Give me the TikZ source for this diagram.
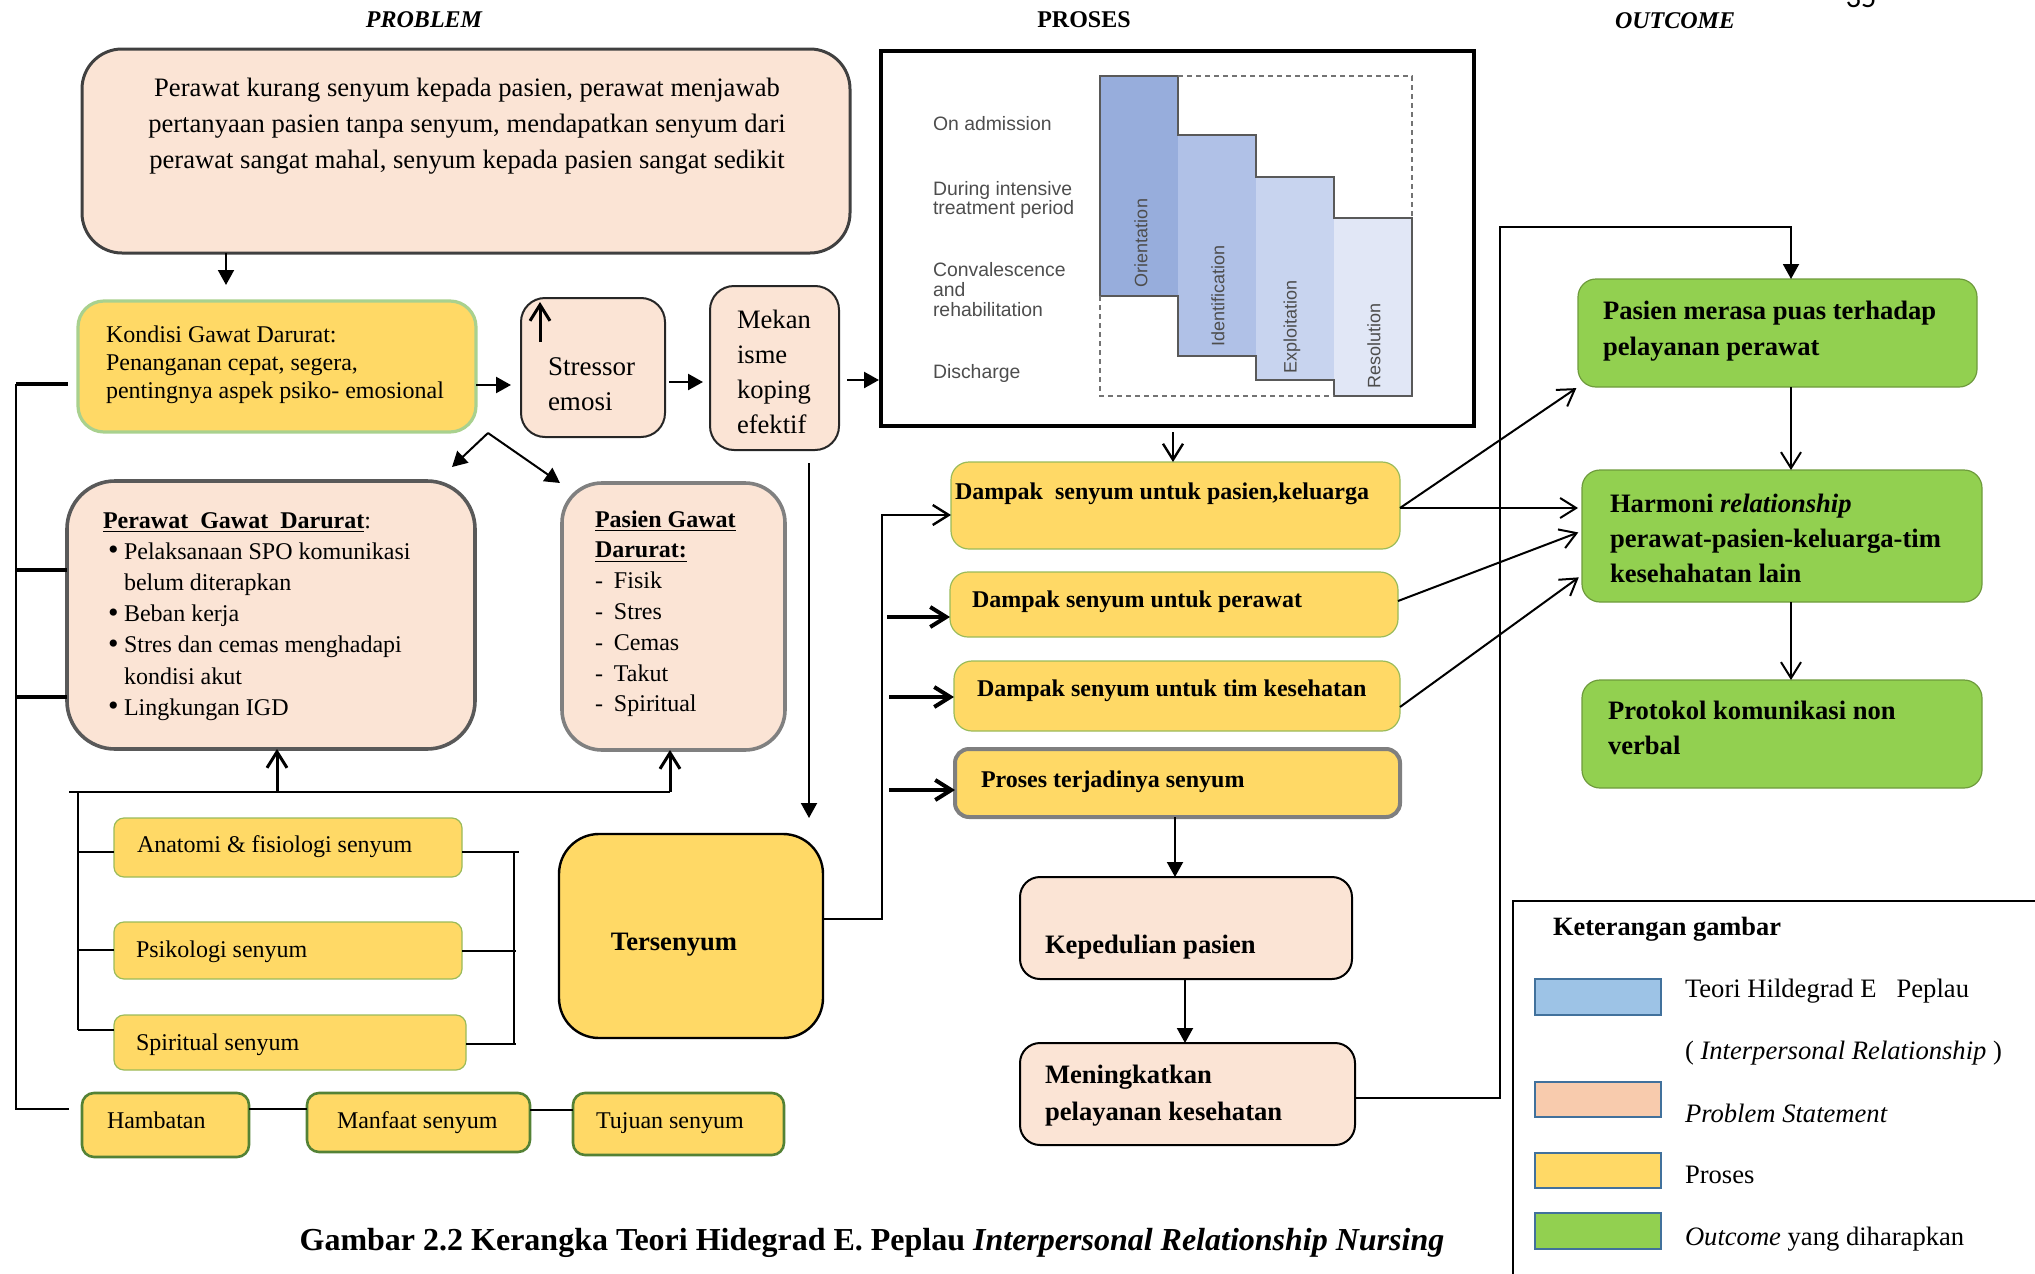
\documentclass[tikz,border=0pt]{standalone}
\usepackage{fontspec}
\setmainfont{Liberation Serif}
\newfontfamily\sansf{Liberation Sans}
\newfontfamily\calib{Carlito}
\usetikzlibrary{arrows.meta,fit}
\definecolor{peach}{HTML}{FBE4D5}
\definecolor{gold}{HTML}{FFD966}
\definecolor{lgreen}{HTML}{92D050}
\definecolor{ogreen}{HTML}{6E9B3C}
\definecolor{kondbd}{HTML}{A9D18E}
\definecolor{subbd}{HTML}{9BBB59}
\definecolor{botbd}{HTML}{548235}
\definecolor{probbd}{HTML}{404040}
\definecolor{perbd}{HTML}{595959}
\definecolor{pasbd}{HTML}{808080}
\definecolor{prosbd}{HTML}{7F7F7F}
\definecolor{cOri}{HTML}{97ADDC}
\definecolor{cIde}{HTML}{B0C1E7}
\definecolor{cExp}{HTML}{C8D4EF}
\definecolor{cRes}{HTML}{E1E7F6}
\definecolor{lgBlue}{HTML}{9DC3E6}
\definecolor{lgPeach}{HTML}{F8CBAD}
\definecolor{lgBd}{HTML}{41719C}
\definecolor{chartTxt}{HTML}{4D4D4D}
\newcommand{\myfs}[2]{\fontsize{#1}{#2}\selectfont}
\newcommand{\bigbul}{\makebox[8pt][l]{\raisebox{-0.3pt}{\myfs{15}{15}\textbullet}}}
\tikzset{
  bx/.style={inner sep=0pt, outer sep=0pt, draw},
  pch/.style={bx, fill=peach},
  yel/.style={bx, fill=gold},
  grn/.style={bx, fill=lgreen, draw=ogreen, line width=0.6pt, rounded corners=9pt},
  subbox/.style={yel, draw=subbd, line width=0.6pt, rounded corners=5pt},
  botbox/.style={yel, draw=botbd, line width=1.3pt, rounded corners=6pt},
  dbox/.style={yel, draw=subbd, line width=0.6pt, rounded corners=9pt},
  tx/.style={inner sep=0pt, outer sep=0pt},
  ln/.style={line width=1pt},
  fa/.style={-{Triangle[length=7.5pt,width=8pt]}},
  oa/.style={-{Straight Barb[length=8pt,width=10pt]}},
  lgsw/.style={draw=lgBd, line width=1.2pt},
}
\begin{document}
\begin{tikzpicture}[x=0.5pt,y=-0.5pt]
\useasboundingbox (0,0) rectangle (2035,1274);

% ---- titles
\node[tx,anchor=base,font=\bfseries\itshape\myfs{12}{14}] (hP) at (424,27) {PROBLEM};
\node[tx,anchor=base,font=\bfseries\myfs{12}{14}] (hPr) at (1084,27) {PROSES};
\node[tx,anchor=base,font=\bfseries\itshape\myfs{12}{14}] (hO) at (1675,28) {OUTCOME};
\node[tx,anchor=base,font=\calib\myfs{15}{17}] (pg) at (1861,7) {35};

% ---- boxes
\node[pch,draw=probbd,line width=1.5pt,rounded corners=20pt,fit={(82,49) (850,253)}] (prob) {};
\node[yel,draw=kondbd,line width=1.6pt,rounded corners=13pt,fit={(78,301) (476,432)}] (kond) {};
\node[pch,draw=black!85,line width=1pt,rounded corners=12pt,fit={(521,298) (665,437)}] (stress) {};
\node[pch,draw=black!85,line width=1pt,rounded corners=12pt,fit={(710,286) (839,450)}] (mek) {};
\node[bx,draw=black,line width=2pt,fit={(881,51) (1474,426)}] (pic) {};
\node[pch,draw=perbd,line width=1.8pt,rounded corners=24pt,fit={(67,481) (475,749)}] (perawat) {};
\node[pch,draw=pasbd,line width=1.8pt,rounded corners=20pt,fit={(562,483) (785,750)}] (pasien) {};
\node[subbox,fit={(114,818) (462,877)}] (anat) {};
\node[subbox,fit={(114,922) (462,979)}] (psik) {};
\node[subbox,fit={(114,1015) (466,1070)}] (spir) {};
\node[botbox,fit={(82,1093) (249,1157)}] (hamb) {};
\node[botbox,fit={(307,1093) (530,1152)}] (manf) {};
\node[botbox,fit={(573,1093) (784,1155)}] (tuju) {};
\node[yel,draw=black,line width=1.2pt,rounded corners=20pt,fit={(559,834) (823,1038)}] (ters) {};
\node[dbox,fit={(951,462) (1400,549)}] (d1) {};
\node[dbox,fit={(950,572) (1398,637)}] (d2) {};
\node[dbox,fit={(954,661) (1400,731)}] (d3) {};
\node[yel,draw=prosbd,line width=2pt,rounded corners=7pt,fit={(955,749) (1400,817)}] (d4) {};
\node[pch,draw=black,line width=1pt,rounded corners=10pt,fit={(1020,877) (1352,979)}] (kep) {};
\node[pch,draw=black,line width=1pt,rounded corners=10pt,fit={(1020,1043) (1355,1145)}] (men) {};
\node[grn,fit={(1578,279) (1977,387)}] (o1) {};
\node[grn,fit={(1582,470) (1982,602)}] (o2) {};
\node[grn,fit={(1582,680) (1982,788)}] (o3) {};
\node[bx,draw=black,line width=1.2pt,fit={(1513,901) (2070,1310)}] (leg) {};

% ---- Peplau chart
\fill[cOri] (1100,76) rectangle (1178,296);
\fill[cIde] (1178,135) rectangle (1256,356);
\fill[cExp] (1256,177) rectangle (1334,380);
\fill[cRes] (1334,218) rectangle (1412,396);
\draw[line width=0.6pt,draw=black!65] (1100,76) -- (1178,76) -- (1178,135) -- (1256,135) -- (1256,177) -- (1334,177) -- (1334,218) -- (1412,218) -- (1412,396) -- (1334,396) -- (1334,380) -- (1256,380) -- (1256,356) -- (1178,356) -- (1178,296) -- (1100,296) -- cycle;
\draw[line width=0.8pt,draw=black!55,dash pattern=on 2.5pt off 2pt] (1178,76) -- (1412,76) -- (1412,218) (1100,296) -- (1100,396) -- (1334,396);
\node[tx,rotate=90,font=\sansf\myfs{9}{10},text=chartTxt] (lOri) at (1141,243) {Orientation};
\node[tx,rotate=90,font=\sansf\myfs{9}{10},text=chartTxt] (lIde) at (1218,296) {Identification};
\node[tx,rotate=90,font=\sansf\myfs{9}{10},text=chartTxt] (lExp) at (1292,327) {Exploitation};
\node[tx,rotate=90,font=\sansf\myfs{9}{10},text=chartTxt] (lRes) at (1374,346) {Resolution};
\node[tx,anchor=base west,font=\sansf\myfs{9.7}{10},text=chartTxt] (lA) at (933,130) {On admission};
\node[tx,anchor=base west] (lB) at (933,181) {\parbox[t]{130pt}{\raggedright\sansf\myfs{9.7}{9.7}\color{chartTxt}During intensive\\treatment period}};
\node[tx,anchor=base west] (lC) at (933,262) {\parbox[t]{130pt}{\raggedright\sansf\myfs{9.7}{10}\color{chartTxt}Convalescence\\and\\rehabilitation}};
\node[tx,anchor=base west,font=\sansf\myfs{9.7}{10},text=chartTxt] (lD) at (933,378) {Discharge};

% ---- texts
\node[tx,anchor=base] (tprob) at (467,96) {\parbox[t]{380pt}{\centering\myfs{13.3}{18}Perawat kurang senyum kepada pasien, perawat menjawab\\ pertanyaan pasien tanpa senyum, mendapatkan senyum dari\\ perawat sangat mahal, senyum kepada pasien sangat sedikit}};
\node[tx,anchor=base west] (tkond) at (106,342) {\parbox[t]{260pt}{\raggedright\myfs{12}{14}Kondisi Gawat Darurat:\\ Penanganan cepat, segera,\\ pentingnya aspek psiko- emosional}};
\node[tx,anchor=base west] (tstress) at (548,375) {\parbox[t]{80pt}{\raggedright\myfs{13.5}{17.5}Stressor\\ emosi}};
\node[tx,anchor=base west] (tmek) at (737,328) {\parbox[t]{80pt}{\raggedright\myfs{13.3}{17.5}Mekan\\ isme\\ koping\\ efektif}};
\node[tx,anchor=base west] (tper) at (103,528) {\parbox[t]{260pt}{\raggedright\myfs{12}{15.6}\textbf{\underline{Perawat\ \ Gawat\ \ Darurat}}:\\
\hspace*{2.5pt}\bigbul Pelaksanaan SPO komunikasi\\
\hspace*{10.5pt}belum diterapkan\\
\hspace*{2.5pt}\bigbul Beban kerja\\
\hspace*{2.5pt}\bigbul Stres dan cemas menghadapi\\
\hspace*{10.5pt}kondisi akut\\
\hspace*{2.5pt}\bigbul Lingkungan IGD}};
\node[tx,anchor=base west] (tpas) at (595,527) {\parbox[t]{150pt}{\raggedright\myfs{12}{15.4}\textbf{\underline{Pasien Gawat}}\\
\textbf{\underline{Darurat:}}\\
\makebox[9.5pt][l]{-}Fisik\\
\makebox[9.5pt][l]{-}Stres\\
\makebox[9.5pt][l]{-}Cemas\\
\makebox[9.5pt][l]{-}Takut\\
\makebox[9.5pt][l]{-}Spiritual}};
\node[tx,anchor=base west,font=\myfs{12}{14}] (tanat) at (137,852) {Anatomi \& fisiologi senyum};
\node[tx,anchor=base west,font=\myfs{12}{14}] (tpsik) at (136,957) {Psikologi senyum};
\node[tx,anchor=base west,font=\myfs{12}{14}] (tspir) at (136,1050) {Spiritual senyum};
\node[tx,anchor=base west,font=\myfs{12}{14}] (thamb) at (107,1128) {Hambatan};
\node[tx,anchor=base west,font=\myfs{12}{14}] (tmanf) at (337,1128) {Manfaat senyum};
\node[tx,anchor=base west,font=\myfs{12}{14}] (ttuju) at (596,1128) {Tujuan senyum};
\node[tx,anchor=base,font=\bfseries\myfs{13.3}{16}] (tters) at (674,950) {Tersenyum};
\node[tx,anchor=base west,font=\bfseries\myfs{12}{14}] (td1) at (955,499) {Dampak\ \ senyum untuk pasien,keluarga};
\node[tx,anchor=base west,font=\bfseries\myfs{12}{14}] (td2) at (972,607) {Dampak senyum untuk perawat};
\node[tx,anchor=base west,font=\bfseries\myfs{12}{14}] (td3) at (977,696) {Dampak senyum untuk tim kesehatan};
\node[tx,anchor=base west,font=\bfseries\myfs{12}{14}] (td4) at (981,787) {Proses terjadinya senyum};
\node[tx,anchor=base west,font=\bfseries\myfs{13.3}{16}] (tkep) at (1045,953) {Kepedulian pasien};
\node[tx,anchor=base west] (tmen) at (1045,1083) {\parbox[t]{200pt}{\raggedright\bfseries\myfs{13.3}{18.5}Meningkatkan\\ pelayanan kesehatan}};
\node[tx,anchor=base west] (to1) at (1603,319) {\parbox[t]{220pt}{\raggedright\bfseries\myfs{13.3}{18}Pasien merasa puas terhadap\\ pelayanan perawat}};
\node[tx,anchor=base west] (to2) at (1610,512) {\parbox[t]{220pt}{\raggedright\bfseries\myfs{13.3}{17.5}Harmoni \textit{relationship}\\ perawat-pasien-keluarga-tim\\ kesehahatan lain}};
\node[tx,anchor=base west] (to3) at (1608,719) {\parbox[t]{220pt}{\raggedright\bfseries\myfs{13.3}{17.5}Protokol komunikasi non\\ verbal}};
\node[tx,anchor=base,font=\bfseries\myfs{16}{18}] (cap) at (872,1250) {Gambar 2.2 Kerangka Teori Hidegrad E. Peplau \textit{Interpersonal Relationship Nursing}};

% ---- legend
\node[tx,anchor=base west,font=\bfseries\myfs{13.2}{15}] (lgT) at (1553,935) {Keterangan gambar};
\node[lgsw,fill=lgBlue,fit={(1535,979) (1661,1015)},inner sep=0pt] (sw1) {};
\node[lgsw,fill=lgPeach,fit={(1535,1082) (1661,1117)},inner sep=0pt] (sw2) {};
\node[lgsw,fill=gold,fit={(1535,1153) (1661,1188)},inner sep=0pt] (sw3) {};
\node[lgsw,fill=lgreen,fit={(1535,1213) (1661,1249)},inner sep=0pt] (sw4) {};
\node[tx,anchor=base west,font=\myfs{13.3}{15}] (lg1) at (1685,997) {Teori Hildegrad E\ \ \ Peplau};
\node[tx,anchor=base west,font=\myfs{13.3}{15}] (lg1b) at (1685,1059) {( \textit{Interpersonal Relationship} )};
\node[tx,anchor=base west,font=\myfs{13.3}{15}] (lg2) at (1685,1122) {\textit{Problem Statement}};
\node[tx,anchor=base west,font=\myfs{13.3}{15}] (lg3) at (1685,1183) {Proses};
\node[tx,anchor=base west,font=\myfs{13.3}{15}] (lg4) at (1685,1245) {\textit{Outcome} yang diharapkan};

% ---- connectors (top row)
\draw[ln,fa,shorten >=8pt] (prob.south -| 226,0) -- (kond.north -| 226,0);
\draw[line width=1.2pt,fa,shorten >=5pt] (kond.east |- 0,385) -- (stress.west |- 0,385);
\draw[line width=1.2pt,fa,shorten <=2pt,shorten >=3.5pt] (stress.east |- 0,382) -- (mek.west |- 0,382);
\draw[line width=1.2pt,fa,shorten <=4pt,shorten >=1pt] (mek.east |- 0,380) -- (pic.west |- 0,380);
\coordinate (su) at (540,342);
\draw[line width=1.5pt,oa,shorten >=2pt] (su) -- (stress.north -| su);
\coordinate (apx) at (488,433);
\coordinate (fk1) at (452,467);
\coordinate (fk2) at (560,483);
\draw[ln,fa] (apx) -- (fk1);
\draw[ln,fa] (apx) -- (fk2);

% ---- left frame
\draw[ln,shorten >=6.5pt] (16,384) -- (16,1109) -- (hamb.west |- 0,1109);
\draw[line width=1.8pt,shorten >=5pt] (16,384) -- (kond.west |- 0,384);
\draw[line width=1.8pt] (16,570) -- (perawat.west |- 0,570);
\draw[line width=1.8pt] (16,697) -- (perawat.west |- 0,697);

% ---- sub-box bus
\coordinate (bus1) at (69,792);
\coordinate (bus2) at (670,792);
\draw[ln] (bus1) -- (bus2);
\draw[line width=1.5pt,oa] (277,792) -- (perawat.south -| 277,0);
\draw[line width=1.5pt,oa] (bus2) -- (pasien.south -| bus2);
\draw[ln] (78,792) -- (78,1030);
\draw[ln] (78,852) -- (anat.west |- 0,852);
\draw[ln] (78,950) -- (psik.west |- 0,950);
\draw[ln] (78,1030) -- (spir.west |- 0,1030);
\draw[ln] (anat.east |- 0,852) -- (519,852);
\draw[ln] (psik.east |- 0,951) -- (516,951);
\draw[ln] (spir.east |- 0,1044) -- (516,1044);
\draw[ln] (514,852) -- (514,1044);
\draw[ln] (hamb.east |- 0,1109) -- (manf.west |- 0,1109);
\draw[ln] (manf.east |- 0,1110) -- (tuju.west |- 0,1110);

% ---- middle
\draw[ln,fa,shorten <=6.5pt,shorten >=8pt] (mek.south -| 809,0) -- (ters.north -| 809,0);
\draw[line width=1.2pt,oa] (ters.east |- 0,919) -- (882,919) -- (882,515) -- (d1.west |- 0,515);
\draw[line width=2pt,oa] (887,617) -- (d2.west |- 0,617);
\draw[line width=2pt,oa] (889,697) -- (d3.west |- 0,697);
\draw[line width=2pt,oa] (889,790) -- (d4.west |- 0,790);
\draw[line width=1.2pt,oa,shorten <=3pt] (pic.south -| 1173,0) -- (d1.north -| 1173,0);
\draw[ln,fa] (d4.south -| 1175,0) -- (kep.north -| 1175,0);
\draw[ln,fa] (kep.south -| 1185,0) -- (men.north -| 1185,0);

% ---- to outcomes
\draw[ln,oa,shorten >=1pt] (d1.east |- 0,508) -- (o1.south west);
\draw[ln,oa,shorten >=2pt] (d1.east |- 0,508) -- (o2.west |- 0,508);
\draw[ln,oa,shorten >=2pt] (d2.east |- 0,601) -- (o2.west |- 0,531);
\draw[ln,oa,shorten >=2pt] (d3.east |- 0,707) -- (o2.west |- 0,575);
\draw[ln,oa] (o1.south -| 1791,0) -- (o2.north -| 1791,0);
\draw[ln,oa] (o2.south -| 1791,0) -- (o3.north -| 1791,0);
\draw[ln,fa] (men.east |- 0,1098) -- (1500,1098) -- (1500,227) -- (1791,227) -- (o1.north -| 1791,0);
\end{tikzpicture}
\end{document}
